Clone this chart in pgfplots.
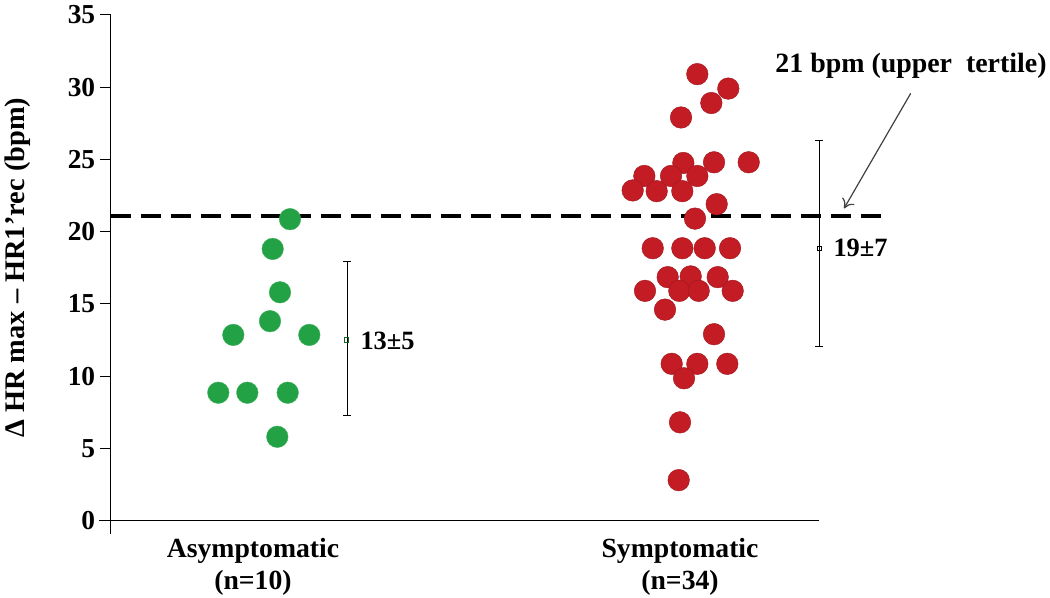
\documentclass[border=0pt]{standalone}
\usepackage{fontspec}
\setmainfont{Liberation Serif}
\usepackage{pgfplots}
\pgfplotsset{compat=1.18}
\usetikzlibrary{arrows.meta}
\definecolor{gdot}{HTML}{22A244}
\definecolor{rdot}{HTML}{C41C24}
\begin{document}
\begin{tikzpicture}
\begin{axis}[
  scale only axis,
  width=708.3bp, height=519bp,
  xmin=110.7, xmax=819, ymin=-0.92, ymax=35,
  clip=false,
  axis x line=none,
  axis y line=left,
  axis line style={-, line width=1bp},
  ytick={0,5,...,35},
  tick align=outside,
  major tick length=11bp,
  tick style={line width=1bp, black},
  /pgf/number format/assume math mode=true,
  yticklabel style={font=\fontsize{27.5}{30}\selectfont\bfseries, xshift=-1bp},
]
% data
\addplot[only marks, mark=*, mark size=10.8bp, color=gdot, mark options={draw=gdot!85!white, fill=gdot}] coordinates {
 (290,20.86) (272.7,18.8) (280,15.8) (270,13.8) (233.3,12.85) (309.3,12.85)
 (218.3,8.85) (247.3,8.85) (287.7,8.85) (277.3,5.8)
};
\addplot[only marks, mark=*, mark size=10.8bp, color=rdot, mark options={draw=rdot!80!black, fill=rdot}] coordinates {
 (697.3,30.9) (728.3,29.9) (711.3,28.9) (681,27.9)
 (683.3,24.75) (714,24.8) (748.7,24.8)
 (644.3,23.85) (671,23.85) (697.3,23.85)
 (632.7,22.85) (656.7,22.8) (682.3,22.8)
 (716.7,21.9) (695,20.9)
 (652.7,18.85) (682.3,18.85) (704.7,18.85) (730,18.85)
 (667.7,16.85) (690.7,16.9) (717.7,16.85)
 (645,15.9) (679.3,15.9) (698.7,15.9) (732.7,15.9)
 (665,14.6) (714,12.9)
 (671.7,10.85) (697.3,10.85) (727.3,10.85)
 (684,9.85) (680,6.8) (678.7,2.8)
};
% threshold
\addplot[black, line width=4bp, dash pattern=on 20bp off 10bp] coordinates {(110.7,21.08) (884,21.08)};
% error bars
\addplot[black, line width=1bp, mark=square, mark size=2.2bp, mark options={draw=gdot!60!black, fill=white, solid},
  error bars/.cd, y dir=both, y explicit, error mark options={rotate=90, mark size=4bp, line width=1bp, black}]
  coordinates {(346.7,12.5) += (0,5.4) -= (0,5.2)};
\addplot[black, line width=1bp, mark=square, mark size=2.2bp, mark options={draw=black, fill=white, solid},
  error bars/.cd, y dir=both, y explicit, error mark options={rotate=90, mark size=4bp, line width=1bp, black}]
  coordinates {(819.3,18.85) += (0,7.45) -= (0,6.8)};
% x axis line
\draw[line width=1bp] (axis cs:99,0) -- (axis cs:819,0);
% labels
\node[anchor=west, font=\fontsize{26.5}{30}\selectfont\bfseries] at (axis cs:357,12.45) {13±5};
\node[anchor=west, font=\fontsize{26.5}{30}\selectfont\bfseries] at (axis cs:830,18.87) {19±7};
\node[font=\fontsize{28}{32}\selectfont\bfseries] at (axis cs:911,31.5) {21 bpm (upper\ \ tertile)};
\draw[-{To[length=9bp, width=14bp]}, line width=1.2bp, black!75] (axis cs:910.7,29.57) -- (axis cs:844,21.6);
\node[align=center, font=\fontsize{27.8}{33}\selectfont\bfseries, anchor=north] at (axis cs:253,-0.95) {Asymptomatic\\(n=10)};
\node[align=center, font=\fontsize{27.8}{33}\selectfont\bfseries, anchor=north] at (axis cs:680,-0.95) {Symptomatic\\(n=34)};
\node[rotate=90, font=\fontsize{28.5}{30}\selectfont\bfseries] at (axis cs:18,17.5) {Δ HR max – HR1’rec (bpm)};
\coordinate (bl) at (axis cs:0,-5.35);
\coordinate (tr) at (axis cs:1050,36.03);
\end{axis}
\pgfresetboundingbox
\path[use as bounding box] (bl) rectangle (tr);
\end{tikzpicture}
\end{document}
